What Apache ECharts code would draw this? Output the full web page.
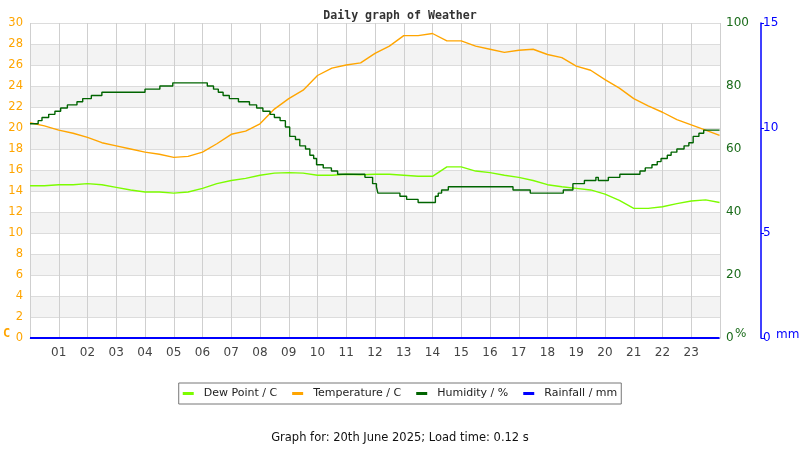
<!DOCTYPE html>
<html>
<head>
<meta charset="utf-8">
<script src="https://cdn.jsdelivr.net/npm/echarts@6/dist/echarts.min.js"></script>
<style>
  html, body { margin: 0; padding: 0; background: #fff; }
  #chart { width: 800px; height: 450px; }
</style>
</head>
<body>
<div id="chart"></div>
<script>
// Daily weather graph: temperature / dew point (C, left), humidity (% right), rainfall (mm, far right)

const times = [
  '00:00', '00:30', '01:00', '01:30', '02:00', '02:30', '03:00', '03:30',
  '04:00', '04:30', '05:00', '05:30', '06:00', '06:30', '07:00', '07:30',
  '08:00', '08:30', '09:00', '09:30', '10:00', '10:30', '11:00', '11:30',
  '12:00', '12:30', '13:00', '13:30', '14:00', '14:30', '15:00', '15:30',
  '16:00', '16:30', '17:00', '17:30', '18:00', '18:30', '19:00', '19:30',
  '20:00', '20:30', '21:00', '21:30', '22:00', '22:30', '23:00', '23:30', '23:59',
];

const dewPoint = [
  14.5, 14.5, 14.6, 14.6, 14.7, 14.6, 14.35, 14.1,
  13.9, 13.9, 13.8, 13.9, 14.25, 14.7, 15.0, 15.2,
  15.5, 15.7, 15.75, 15.7, 15.5, 15.5, 15.6, 15.55,
  15.6, 15.6, 15.5, 15.4, 15.4, 16.3, 16.3, 15.9,
  15.75, 15.5, 15.3, 15.0, 14.6, 14.4, 14.25, 14.1,
  13.7, 13.1, 12.35, 12.35, 12.5, 12.8, 13.05, 13.15, 12.9,
];

const temperature = [
  20.5, 20.2, 19.8, 19.5, 19.1, 18.6, 18.3, 18.0,
  17.7, 17.5, 17.2, 17.3, 17.7, 18.5, 19.4, 19.7,
  20.4, 21.8, 22.8, 23.6, 25.0, 25.7, 26.0, 26.2,
  27.1, 27.8, 28.8, 28.8, 29.0, 28.3, 28.3, 27.8,
  27.5, 27.2, 27.4, 27.5, 27.0, 26.7, 25.9, 25.5,
  24.6, 23.8, 22.8, 22.1, 21.5, 20.8, 20.3, 19.8, 19.3,
];

// humidity is logged in whole percent: times at which the reading changed
const humidityTimes = [
  '00:00', '00:17', '00:25', '00:39', '00:52', '01:04', '01:18', '01:38',
  '01:50', '02:08', '02:30', '04:00', '04:31', '04:58', '06:10', '06:23',
  '06:33', '06:43', '06:56', '07:15', '07:38', '07:53', '08:06', '08:21',
  '08:30', '08:42', '08:53', '09:02', '09:14', '09:23', '09:35', '09:44',
  '09:52', '09:58', '10:12', '10:29', '10:42', '11:39', '11:55', '12:03',
  '12:06', '12:52', '13:06', '13:30', '14:06', '14:12', '14:19', '14:33',
  '16:48', '17:24', '18:33', '18:53', '19:17', '19:41', '19:46', '20:07',
  '20:31', '21:13', '21:24', '21:38', '21:49', '21:57', '22:10', '22:18',
  '22:30', '22:45', '22:55', '23:04', '23:16', '23:26', '23:59',
];
const humidity = [
  68, 69, 70, 71, 72, 73, 74, 75,
  76, 77, 78, 79, 80, 81, 80, 79,
  78, 77, 76, 75, 74, 73, 72, 71,
  70, 69, 67, 64, 63, 61, 60, 58,
  57, 55, 54, 53, 52, 51, 49, 48,
  46, 45, 44, 43, 45, 46, 47, 48,
  47, 46, 47, 49, 50, 51, 50, 51,
  52, 53, 54, 55, 56, 57, 58, 59,
  60, 61, 62, 64, 65, 66, 66,
];

const rainTimes = ['00:00', '23:59'];
const rainfall = [0, 0];

const seriesNames = ['Dew Point / C', 'Temperature / C', 'Humidity / %', 'Rainfall / mm'];
const seriesColors = ['#7cfc00', '#ffa500', '#006400', '#0000ff'];
const footerText = 'Graph for: 20th June 2025; Load time: 0.12 s';

const FONT = 'DejaVu Sans';
const hourOf = (t) => { const [h, m] = t.split(':').map(Number); return h + m / 60; };
const pairs = (ts, vals) => vals.map((v, i) => [hourOf(ts[i]), v]);

const chart = echarts.init(document.getElementById('chart'), null, { renderer: 'canvas' });

const lineSeries = (i, yIdx, ts, vals, extra = {}) => ({
  name: seriesNames[i], type: 'line', yAxisIndex: yIdx, data: pairs(ts, vals),
  showSymbol: false, symbol: 'none', color: seriesColors[i],
  lineStyle: { color: seriesColors[i], width: 1.4 }, animation: false, ...extra,
});

chart.setOption({
  animation: false,
  title: {
    text: 'Daily graph of Weather', left: 'center', top: 5,
    textStyle: { fontFamily: 'DejaVu Sans Mono', fontWeight: 'bold', fontSize: 11.6, color: '#333' },
  },
  grid: { left: 30, right: 80, top: 23, bottom: 112 },
  legend: {
    data: seriesNames, left: 'center', top: 383,
    borderColor: '#777', borderWidth: 1, padding: [5, 4],
    itemGap: 15, itemWidth: 11, itemHeight: 3, icon: 'rect',
    textStyle: { fontFamily: FONT, fontSize: 11, color: '#222', padding: [0, 0, 0, 5] },
  },
  xAxis: {
    type: 'value', min: 0, max: 24, interval: 1,
    axisLine: { show: true, lineStyle: { color: '#ccc' } },
    axisTick: { show: false },
    axisLabel: {
      fontFamily: FONT, fontSize: 12, color: '#444', margin: 9,
      formatter: (v) => (v > 0 && v < 24 ? String(v).padStart(2, '0') : ''),
    },
    splitLine: { show: true, lineStyle: { color: '#cfcfcf' } },
  },
  yAxis: [
    {
      type: 'value', min: 0, max: 30, interval: 2, position: 'left',
      axisLine: { show: false }, axisTick: { show: false },
      axisLabel: { fontFamily: FONT, fontSize: 11.5, color: '#ffa500', margin: 7 },
      splitLine: { lineStyle: { color: '#dcdcdc' } },
      splitArea: { show: true, areaStyle: { color: ['#ffffff', '#f3f3f3'] } },
    },
    {
      type: 'value', min: 0, max: 100, interval: 20, position: 'right', offset: 0,
      axisLine: { show: false }, axisTick: { show: false },
      axisLabel: { fontFamily: FONT, fontSize: 12, color: '#1a6b1a', margin: 6 },
      splitLine: { show: false },
    },
    {
      type: 'value', min: 0, max: 15, interval: 5, position: 'right', offset: 41,
      axisLine: { show: true, lineStyle: { color: '#0000ff', width: 1.5 } },
      axisTick: { show: true, length: 3, lineStyle: { color: '#0000ff' } },
      axisLabel: { fontFamily: FONT, fontSize: 12, color: '#0000ff', margin: 2 },
      splitLine: { show: false },
    },
  ],
  graphic: [
    { type: 'text', left: 3, top: 328, style: { text: 'C', fill: '#ffa500', font: 'bold 12px "DejaVu Sans Mono"' } },
    { type: 'text', left: 735, top: 328, style: { text: '%', fill: '#1a6b1a', font: '12px DejaVu Sans' } },
    { type: 'text', left: 776, top: 329, style: { text: 'mm', fill: '#0000ff', font: '12px DejaVu Sans' } },
    { type: 'text', left: 'center', top: 432, style: { text: footerText, fill: '#111', font: '11.5px DejaVu Sans' } },
  ],
  series: [
    lineSeries(0, 0, times, dewPoint),
    lineSeries(1, 0, times, temperature),
    lineSeries(2, 1, humidityTimes, humidity, { step: 'end' }),
    lineSeries(3, 2, rainTimes, rainfall, { lineStyle: { color: seriesColors[3], width: 2 } }),
  ],
});
</script>
</body>
</html>
